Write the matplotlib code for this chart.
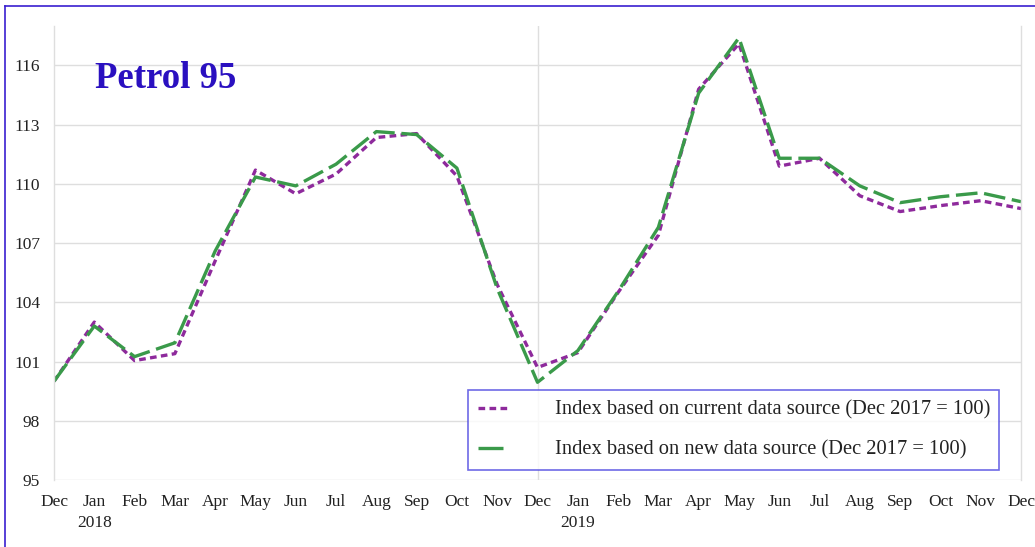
import matplotlib
matplotlib.use('Agg')
import matplotlib.pyplot as plt
from matplotlib.lines import Line2D

months = ['Dec', 'Jan\n2018', 'Feb', 'Mar', 'Apr', 'May', 'Jun', 'Jul', 'Aug', 'Sep', 'Oct', 'Nov',
          'Dec', 'Jan\n2019', 'Feb', 'Mar', 'Apr', 'May', 'Jun', 'Jul', 'Aug', 'Sep', 'Oct', 'Nov', 'Dec']

current_source = [100.0, 103.0, 101.05, 101.4, 106.1, 110.7, 109.5, 110.5, 112.35, 112.55, 110.4, 104.9,
                  100.7, 101.45, 104.5, 107.4, 114.8, 117.1, 110.9, 111.3, 109.4, 108.6, 108.9, 109.15, 108.75]
new_source = [100.0, 102.8, 101.25, 101.95, 106.6, 110.35, 109.9, 111.0, 112.65, 112.5, 110.8, 104.7,
              99.95, 101.55, 104.55, 107.8, 114.6, 117.4, 111.3, 111.3, 109.9, 109.05, 109.35, 109.55, 109.1]

yticks = [95, 98, 101, 104, 107, 110, 113, 116]

purple = '#8e2a9c'
green = '#3a9a4a'
grid_c = '#dedede'

plt.rcParams['font.family'] = ['Liberation Serif', 'DejaVu Serif']

fig = plt.figure(figsize=(10.35, 5.47), dpi=100)
ax = fig.add_axes([54 / 1035, 1 - 480 / 547, (1021 - 54) / 1035, (480 - 26) / 547])

x = list(range(len(months)))
ax.plot(x, current_source, color=purple, lw=2.4, dashes=(2, 1.3))
ax.plot(x, new_source, color=green, lw=2.4, dashes=(6.5, 2))

ax.set_xlim(0, len(months) - 1)
ax.set_ylim(95, 118)
ax.set_yticks(yticks)
ax.set_xticks(x)
ax.set_xticklabels(months, fontsize=12.5, linespacing=1.45, va='top')
ax.tick_params(axis='both', length=0, labelsize=12.5, colors='#222222')
ax.tick_params(axis='x', pad=10)
ax.tick_params(axis='y', pad=10)

for t in yticks:
    ax.axhline(t, color=grid_c, lw=1, zorder=0)
ax.axvline(12, color=grid_c, lw=1, zorder=0)
for s in ['top', 'bottom']:
    ax.spines[s].set_visible(False)
for s in ['left', 'right']:
    ax.spines[s].set_color(grid_c)
    ax.spines[s].set_linewidth(1)

ax.text(95 / 1035, 1 - 79 / 547, 'Petrol 95', transform=fig.transFigure, fontsize=26.5,
        fontweight='bold', color='#2a10c0', va='center', ha='left')

handles = [Line2D([], [], color=purple, lw=2.4, dashes=(2, 1.3)),
           Line2D([], [], color=green, lw=2.4, dashes=(7.5, 2.5, 0.5, 2))]
leg = ax.legend(handles, ['Index based on current data source (Dec 2017 = 100)',
                          'Index based on new data source (Dec 2017 = 100)'],
                loc='lower left', bbox_to_anchor=((468 - 54) / 967, (480 - 470) / 454, (999 - 468) / 967, 82 / 454),
                mode='expand', fontsize=14.8, frameon=True, fancybox=False, handlelength=1.45,
                handletextpad=2.3, labelspacing=1.0, borderpad=0.5, borderaxespad=0)
leg.get_frame().set_edgecolor('#4a44e0')
leg.get_frame().set_linewidth(1.2)
for txt in leg.get_texts():
    txt.set_color('#222222')

# outer border of the figure
fig.add_artist(Line2D([5 / 1035, 5 / 1035], [0, 1 - 6 / 547], color='#3a1fd0', lw=1.2, transform=fig.transFigure))
fig.add_artist(Line2D([5 / 1035, 1], [1 - 6 / 547, 1 - 6 / 547], color='#3a1fd0', lw=1.2, transform=fig.transFigure))

fig.savefig('out.png', dpi=100)
